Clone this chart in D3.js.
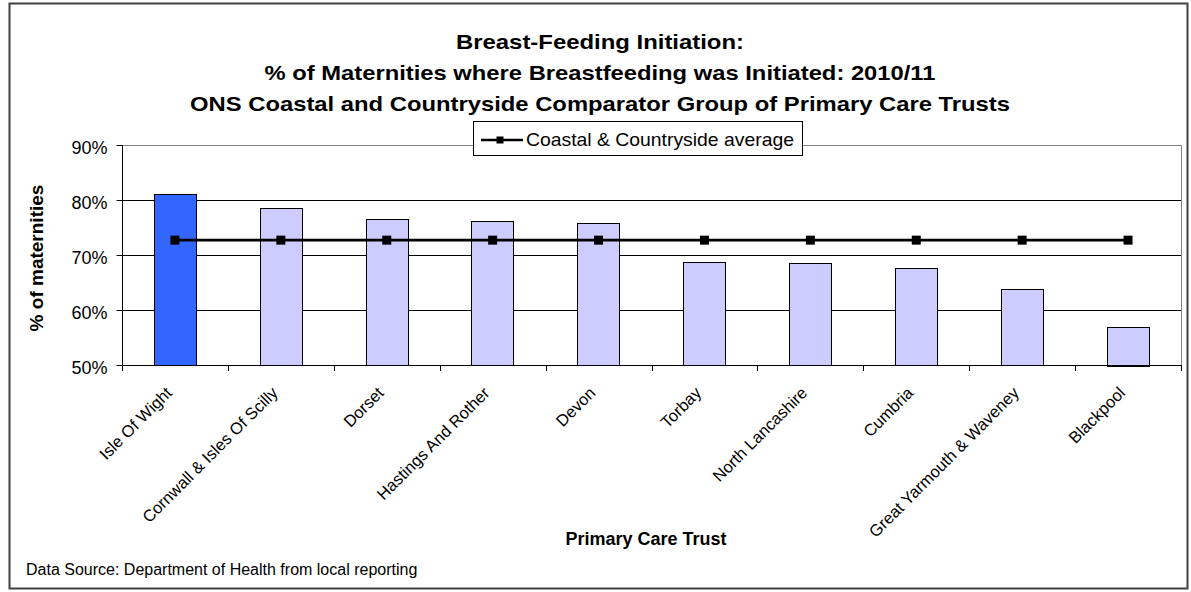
<!DOCTYPE html>
<html><head><meta charset="utf-8">
<script src="https://cdn.jsdelivr.net/npm/d3@7"></script>
<style>body{margin:0;background:#fff}svg{display:block}text{font-family:"Liberation Sans",Arial,sans-serif}</style>
</head><body>
<svg id="c" width="1191" height="592"></svg>
<script>
const categories = ["Isle Of Wight","Cornwall & Isles Of Scilly","Dorset","Hastings And Rother","Devon","Torbay","North Lancashire","Cumbria","Great Yarmouth & Waveney","Blackpool"];
const values = [81.1, 78.6, 76.5, 76.2, 75.8, 68.8, 68.5, 67.7, 63.8, 57.0];
const average = [72.7, 72.7, 72.7, 72.7, 72.7, 72.7, 72.7, 72.7, 72.7, 72.7];
const yTicks = [50, 60, 70, 80, 90];
const titleLines = ["Breast-Feeding Initiation:", "% of Maternities where Breastfeeding was Initiated: 2010/11", "ONS Coastal and Countryside Comparator Group of Primary Care Trusts"];
const highlight = "Isle Of Wight";

// layout (not data)
const titleWidths = [288, 671, 820];

const svg = d3.select("#c");
const m = {left:122, right:1181, top:145, bottom:365};

svg.append("rect").attr("x",9.5).attr("y",3.5).attr("width",1178).attr("height",585)
  .attr("fill","#fff").attr("stroke","#404040").attr("stroke-width",2);

const x = d3.scaleBand().domain(categories).range([m.left, m.right]).paddingInner(0.6).paddingOuter(0.3);
const xc = d3.scaleBand().domain(categories).range([m.left, m.right]);
const y = d3.scaleLinear().domain([50, 90]).range([m.bottom, m.top]);

// gridlines
svg.append("g").selectAll("line").data(yTicks.slice(1,-1)).join("line")
  .attr("x1", m.left).attr("x2", m.right).attr("y1", d=>y(d)+0.5).attr("y2", d=>y(d)+0.5)
  .attr("stroke","#000").attr("stroke-width",1);
// plot border top/right
svg.append("path").attr("d",`M${m.left},${m.top+0.5}H${m.right+0.5}V${m.bottom}`)
  .attr("fill","none").attr("stroke","#808080").attr("stroke-width",1);

// bars
svg.append("g").selectAll("rect").data(categories).join("rect")
  .attr("x", d=>Math.round(x(d))+0.5).attr("width", Math.round(x.bandwidth()))
  .attr("y", (d,i)=>Math.round(y(values[i]))+0.5).attr("height",(d,i)=>Math.round(y(50)-y(values[i])))
  .attr("fill", d=> d===highlight ? "#3366FF" : "#CCCCFF")
  .attr("stroke","#000").attr("stroke-width",1);

// y axis
const ya = svg.append("g").attr("transform",`translate(${m.left+0.5},0)`)
  .call(d3.axisLeft(y).tickValues(yTicks).tickFormat(d=>d+"%").tickSize(6).tickPadding(9));
ya.selectAll("path,line").attr("stroke","#000");
ya.select(".domain").attr("d",`M0,${m.top}V${m.bottom}`);
ya.selectAll("text").attr("font-size",18).attr("fill","#000").attr("dy","0.45em").attr("font-family","Liberation Sans, Arial, sans-serif");

// x axis
const xa = svg.append("g").attr("transform",`translate(0,${m.bottom+0.5})`)
  .call(d3.axisBottom(xc).tickSize(0).tickFormat(""));
xa.select(".domain").attr("stroke","#000").attr("d",`M${m.left},0H${m.right+1}`);
xa.selectAll(".tick").remove();
svg.append("g").selectAll("line").data(d3.range(categories.length+1)).join("line")
  .attr("x1", i=>Math.round(m.left + i*xc.step())+0.5).attr("x2", i=>Math.round(m.left + i*xc.step())+0.5)
  .attr("y1", m.bottom).attr("y2", m.bottom+6).attr("stroke","#000");

svg.append("g").selectAll("text").data(categories).join("text")
  .attr("transform", d=>`translate(${xc(d)+xc.bandwidth()/2-2},${m.bottom+29}) rotate(-45)`)
  .attr("text-anchor","end").attr("font-size",16.5).attr("fill","#000").text(d=>d);

// average line
const line = d3.line().x((d,i)=>xc(categories[i])+xc.bandwidth()/2).y(d=>y(d));
svg.append("path").datum(average).attr("d", line).attr("fill","none").attr("stroke","#000").attr("stroke-width",2.6);
svg.append("g").selectAll("rect").data(average).join("rect")
  .attr("x",(d,i)=>xc(categories[i])+xc.bandwidth()/2-4.5).attr("y",d=>y(d)-4.5)
  .attr("width",9).attr("height",9).attr("fill","#000");

// legend
const lg = svg.append("g");
lg.append("rect").attr("x",473.5).attr("y",121.5).attr("width",329).attr("height",34)
  .attr("fill","#fff").attr("stroke","#000").attr("stroke-width",1);
lg.append("line").attr("x1",481).attr("x2",523).attr("y1",140).attr("y2",140).attr("stroke","#000").attr("stroke-width",2.6);
lg.append("rect").attr("x",496.5).attr("y",136.5).attr("width",7).attr("height",7).attr("fill","#000");
lg.append("text").attr("x",526).attr("y",146).attr("font-size",19).attr("fill","#000")
  .attr("textLength",268).attr("lengthAdjust","spacingAndGlyphs").text("Coastal & Countryside average");

// titles
svg.append("g").selectAll("text").data(titleLines).join("text")
  .attr("x",600).attr("y",(d,i)=>49 + i*31).attr("text-anchor","middle")
  .attr("font-size",21).attr("font-weight","bold").attr("fill","#000")
  .attr("textLength",(d,i)=>titleWidths[i]).attr("lengthAdjust","spacingAndGlyphs").text(d=>d);

svg.append("text").attr("transform","translate(43,258) rotate(-90)").attr("text-anchor","middle")
  .attr("font-size",19).attr("font-weight","bold").attr("fill","#000").text("% of maternities");

svg.append("text").attr("x",646).attr("y",545).attr("text-anchor","middle")
  .attr("font-size",18).attr("font-weight","bold").attr("fill","#000").text("Primary Care Trust");

svg.append("text").attr("x",26).attr("y",575).attr("font-size",16).attr("fill","#000")
  .text("Data Source: Department of Health from local reporting");
</script>
</body></html>
